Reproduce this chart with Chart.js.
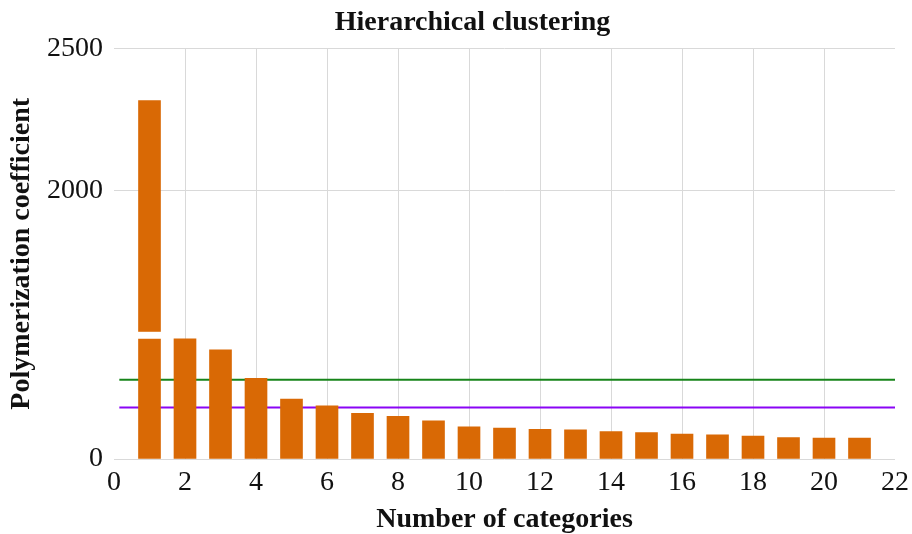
<!DOCTYPE html>
<html>
<head>
<meta charset="utf-8">
<script src="https://cdn.jsdelivr.net/npm/chart.js@4.4.0/dist/chart.umd.min.js"></script>
<style>
  body { margin: 0; background: #fff; }
  #wrap { width: 912px; height: 534px; }
</style>
</head>
<body>
<div id="wrap"><canvas id="clusterChart"></canvas></div>
<script>
const categories = [1, 2, 3, 4, 5, 6, 7, 8, 9, 10, 11, 12, 13, 14, 15, 16, 17, 18, 19, 20, 21];
const coefficients = [2316, 400, 363, 268, 199, 177, 152, 142, 127, 107, 103, 99, 97, 91, 88, 83, 80, 76, 71, 70, 70];
const greenLevel = 264;
const purpleLevel = 171;
const levelSpan = [0.15, 22];
const xTicks = [0, 22, 2]; // min, max, step
const yTicks = [0, 2000, 2500];
const yBreak = [400, 1500]; // values hidden by the axis break

const serif = "'Liberation Serif', 'Times New Roman', serif";

// linear axis with a break: lower part, small gap, upper part
const LinearScale = Chart.registry.getScale("linear");
class BrokenLinearScale extends LinearScale {
  _parts() {
    const h = this.bottom - this.top;
    const low = h * 0.293;
    const gap = h * 0.017;
    return { low: low, gap: gap, up: h - low - gap };
  }
  getPixelForValue(value) {
    const p = this._parts();
    const lo = yBreak[0], hi = yBreak[1];
    if (value <= lo) return this.bottom - ((value - this.min) / (lo - this.min)) * p.low;
    if (value < hi) return this.bottom - p.low - ((value - lo) / (hi - lo)) * p.gap;
    return this.bottom - p.low - p.gap - ((value - hi) / (this.max - hi)) * p.up;
  }
  getValueForPixel(pixel) {
    const p = this._parts();
    const lo = yBreak[0], hi = yBreak[1];
    const d = this.bottom - pixel;
    if (d <= p.low) return this.min + (d / p.low) * (lo - this.min);
    if (d <= p.low + p.gap) return lo + ((d - p.low) / p.gap) * (hi - lo);
    return hi + ((d - p.low - p.gap) / p.up) * (this.max - hi);
  }
}
BrokenLinearScale.id = "brokenLinear";
BrokenLinearScale.defaults = LinearScale.defaults;
Chart.register(BrokenLinearScale);

// white cut through bars that cross the break
const breakGap = {
  id: "breakGap",
  afterDatasetsDraw(chart) {
    const y = chart.scales.y;
    const top = y.getPixelForValue(yBreak[1]);
    const bottom = y.getPixelForValue(yBreak[0]);
    const ctx = chart.ctx;
    ctx.save();
    ctx.fillStyle = "#fff";
    chart.getDatasetMeta(0).data.forEach((bar, i) => {
      if (coefficients[i] <= yBreak[0]) return;
      ctx.fillRect(bar.x - bar.width / 2 - 1, top, bar.width + 2, bottom - top);
    });
    ctx.restore();
  },
};

// title sits a bit left of the plot centre
const titleShift = {
  id: "titleShift",
  afterLayout(chart) {
    chart.titleBlock.left = 33;
    chart.titleBlock.right = 912;
  },
};

const levelLine = (level, color) => ({
  type: "line",
  data: [
    { x: levelSpan[0], y: level },
    { x: levelSpan[1], y: level },
  ],
  borderColor: color,
  borderWidth: 2,
  pointRadius: 0,
  order: 1,
});

const config = {
  type: "bar",
  data: {
    datasets: [
      {
        type: "bar",
        label: "Polymerization coefficient",
        data: categories.map((c, i) => ({ x: c, y: coefficients[i] })),
        backgroundColor: "#d96905",
        barThickness: 22,
        order: 0,
      },
      levelLine(greenLevel, "#17841a"),
      levelLine(purpleLevel, "#8a05f5"),
    ],
  },
  options: {
    responsive: true,
    maintainAspectRatio: false,
    animation: false,
    layout: {
      padding: { left: 0, right: 17, top: 0, bottom: 0 },
    },
    scales: {
      x: {
        type: "linear",
        min: xTicks[0],
        max: xTicks[1],
        offset: false,
        border: { display: false },
        grid: {
          offset: false,
          drawTicks: false,
          color: (ctx) =>
            ctx.tick && ctx.tick.value > xTicks[0] && ctx.tick.value < xTicks[1]
              ? "#d9d9d9"
              : "rgba(0,0,0,0)",
        },
        ticks: {
          stepSize: xTicks[2],
          padding: 7,
          color: "#111",
          font: { family: serif, size: 28 },
          callback: (v) => String(v),
        },
        title: {
          display: true,
          text: "Number of categories",
          color: "#111",
          font: { family: serif, size: 28, weight: "bold" },
          padding: { top: 0, bottom: -3 },
        },
        afterFit: (s) => {
          s.height = 75;
          s.paddingLeft = 0;
          s.paddingRight = 0;
        },
      },
      y: {
        type: "brokenLinear",
        min: 0,
        max: 2500,
        border: { display: false },
        grid: {
          drawTicks: false,
          color: "#d9d9d9",
        },
        afterBuildTicks: (s) => {
          s.ticks = yTicks.map((v) => ({ value: v }));
        },
        ticks: {
          padding: 11,
          color: "#111",
          font: { family: serif, size: 28 },
          callback: (v) => String(v),
        },
        title: {
          display: true,
          text: "Polymerization coefficient",
          color: "#111",
          font: { family: serif, size: 28, weight: "bold" },
          padding: { top: 5, bottom: 0 },
        },
        afterFit: (s) => {
          s.width = 114;
          s.paddingTop = 0;
          s.paddingBottom = 0;
        },
      },
    },
    plugins: {
      legend: { display: false },
      tooltip: { enabled: false },
      title: {
        display: true,
        text: "Hierarchical clustering",
        color: "#111",
        font: { family: serif, size: 28, weight: "bold" },
        padding: { top: 6, bottom: 9 },
      },
    },
  },
  plugins: [breakGap, titleShift],
};

new Chart(document.getElementById("clusterChart"), config);
</script>
</body>
</html>
